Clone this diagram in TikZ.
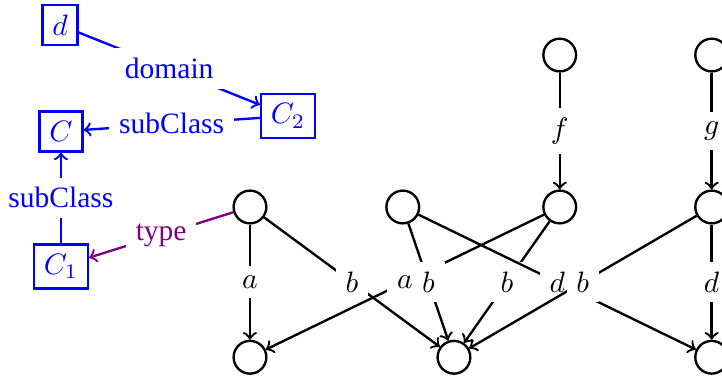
\documentclass[tikz,border=0pt]{standalone}
\usepackage{fontspec}
\setmainfont{Liberation Serif}
\usetikzlibrary{positioning}
\begin{document}
\begin{tikzpicture}[
    thick, >=to,
    state/.style={
        circle, draw,
        inner sep=0pt,
        minimum size=3.9mm
    },
    cls/.style={rectangle, draw=blue, text=blue},
    lbl/.style={fill=white}
]
\useasboundingbox (-2.978,2.466) rectangle (5.623,-2.013);
\node[state] (m1) at (0,0) {};
\node[state] (m2) at (1.82,0) {};
\node[state] (m3) at (3.69,0) {};
\node[state] (m4) at (5.5,0) {};
\node[state] (t3) at (3.69,1.81) {};
\node[state] (t4) at (5.5,1.81) {};
\node[state] (b1) at (0,-1.79) {};
\node[state] (b2) at (2.43,-1.79) {};
\node[state] (b4) at (5.5,-1.79) {};

\node[cls] (d) at (-2.264,2.168) {$d$};
\node[cls] (C2) at (0.453,1.084) {$C_2$};
\node[cls] (C) at (-2.252,0.9) {$C$};
\node[cls] (C1) at (-2.252,-0.709) {$C_1$};

\draw[->] (t3) -- node[lbl] {$f$} (m3);
\draw[->] (t4) -- node[lbl] {$g$} (m4);
\draw[->] (m1) -- node[lbl] {$a$} (b1);
\draw[->] (m1) -- node[lbl] {$b$} (b2);
\draw[->] (m3) -- node[lbl] {$a$} (b1);
\draw[->] (m2) -- node[lbl] {$b$} (b2);
\draw[->] (m3) -- node[lbl] {$b$} (b2);
\draw[->] (m2) -- node[lbl] {$d$} (b4);
\draw[->] (m4) -- node[lbl] {$b$} (b2);
\draw[->] (m4) -- node[lbl] {$d$} (b4);

\draw[->, blue] (d) -- node[lbl] {domain} (C2);
\draw[->, blue] (C2) -- node[lbl] {subClass} (C);
\draw[->, blue] (C1) -- node[lbl] {subClass} (C);
\draw[->, violet] (m1) -- node[lbl] {type} (C1);
\end{tikzpicture}
\end{document}
